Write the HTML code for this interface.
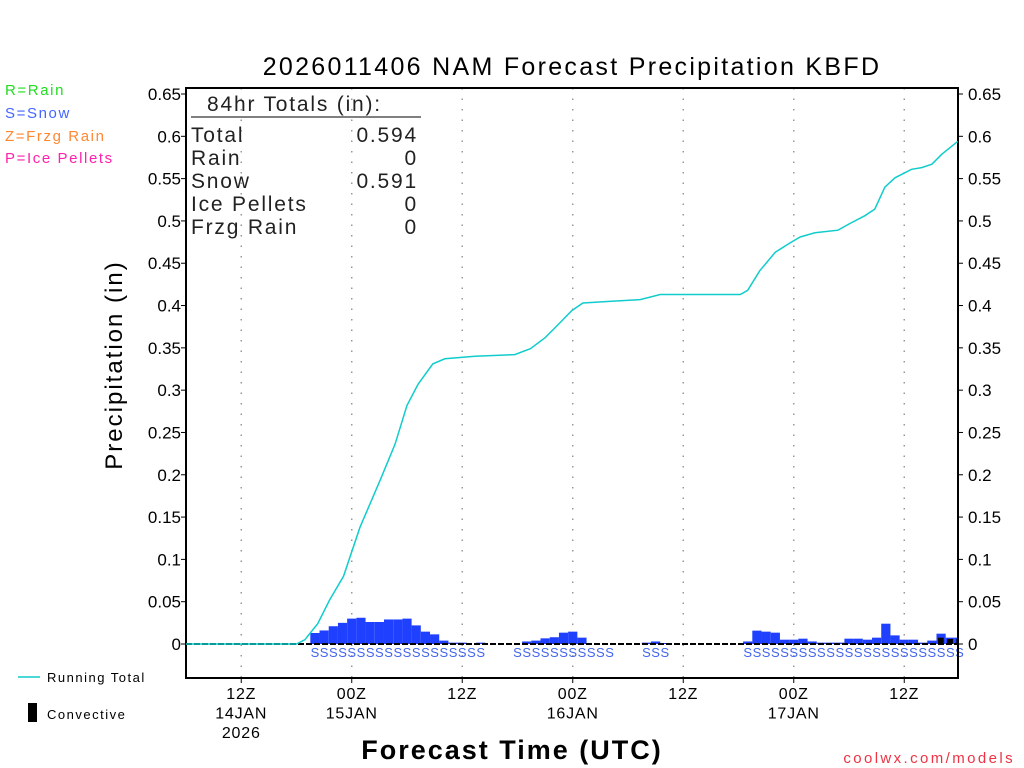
<!DOCTYPE html>
<html><head><meta charset="utf-8"><style>
body{margin:0;background:#fff;}
svg{display:block;font-family:"Liberation Sans",sans-serif;}
</style></head><body>
<svg id="chart" width="1024" height="768" viewBox="0 0 1024 768">
<text x="572" y="75" font-size="25" text-anchor="middle" fill="#000" letter-spacing="2.3">2026011406 NAM Forecast Precipitation KBFD</text>
<g font-size="15" letter-spacing="1.6">
<text x="5" y="95" fill="#22dd22">R=Rain</text>
<text x="5" y="118" fill="#4466ff">S=Snow</text>
<text x="5" y="141" fill="#ff8833">Z=Frzg Rain</text>
<text x="5" y="163" fill="#ff22aa">P=Ice Pellets</text>
</g>
<g id="grid"></g>
<g id="bars"></g>
<g id="slabels"></g>
<g id="axes"></g>
<path id="runline" fill="none" stroke="#11cccc" stroke-width="1.5"/>
<g font-size="21" fill="#222" letter-spacing="1.8" font-weight="300">
<text x="207" y="111">84hr Totals (in):</text>
<line x1="191" y1="117" x2="421" y2="117" stroke="#000" stroke-width="1"/>
<text x="191" y="142">Total</text><text x="418" y="142" text-anchor="end">0.594</text>
<text x="191" y="165">Rain</text><text x="418" y="165" text-anchor="end">0</text>
<text x="191" y="188">Snow</text><text x="418" y="188" text-anchor="end">0.591</text>
<text x="191" y="211">Ice Pellets</text><text x="418" y="211" text-anchor="end">0</text>
<text x="191" y="234">Frzg Rain</text><text x="418" y="234" text-anchor="end">0</text>
</g>
<text transform="translate(122,365) rotate(-90)" font-size="24" text-anchor="middle" letter-spacing="2">Precipitation (in)</text>
<text x="512" y="759" font-size="27" text-anchor="middle" font-weight="bold" letter-spacing="2">Forecast Time (UTC)</text>
<g>
<line x1="18" y1="677" x2="40" y2="677" stroke="#11cccc" stroke-width="1.5"/>
<text x="47" y="682" font-size="13" letter-spacing="1.5">Running Total</text>
<rect x="28" y="703" width="9" height="19" fill="#000"/>
<text x="47" y="719" font-size="13" letter-spacing="1.5">Convective</text>
</g>
<text x="1015" y="763" font-size="15" fill="#ee3344" text-anchor="end" letter-spacing="2.4">coolwx.com/models</text>
</svg>
<script>
const barHours = [14,15,16,17,18,19,20,21,22,23,24,25,26,27,28,29,30,32,37,38,39,40,41,42,43,50,51,52,61,62,63,64,65,66,67,68,69,70,71,72,73,74,75,76,77,78,79,80,81,82,83,84];
const barValues = [0.013,0.016,0.021,0.025,0.030,0.031,0.026,0.026,0.029,0.029,0.030,0.022,0.0146,0.0114,0.004,0.0016,0.0016,0.0016,0.003,0.004,0.0067,0.008,0.0134,0.0146,0.0075,0.0016,0.003,0.0012,0.003,0.0158,0.0146,0.0134,0.0051,0.0051,0.0063,0.003,0.0016,0.0016,0.0016,0.0063,0.0063,0.0051,0.0075,0.024,0.0102,0.0051,0.0051,0.0016,0.004,0.0122,0.0075,0.0075];
const convHours = [82,83,84];
const convValues = [0.0075,0.006,0.006];
const runHours = [0,12,12.9,14.3,15.6,17.1,18.9,21.1,22.7,24,25.2,26.8,28.1,31.4,35.7,37.4,39,40.1,41.9,43.1,46.2,49.3,50.4,51.5,60.2,61,62.3,64,65.6,66.7,68.3,70.8,72.1,73.7,74.8,75.9,77,78.8,79.9,81,82.1,83.8];
const runValues = [0,0,0.005,0.024,0.052,0.080,0.138,0.194,0.236,0.282,0.307,0.331,0.337,0.340,0.342,0.349,0.362,0.374,0.394,0.403,0.405,0.407,0.410,0.413,0.413,0.418,0.441,0.463,0.474,0.481,0.486,0.489,0.497,0.506,0.514,0.540,0.551,0.561,0.563,0.567,0.579,0.594];
const snowHours = [14,15,16,17,18,19,20,21,22,23,24,25,26,27,28,29,30,31,32,36,37,38,39,40,41,42,43,44,45,46,50,51,52,61,62,63,64,65,66,67,68,69,70,71,72,73,74,75,76,77,78,79,80,81,82,83,84];
const yTicks = [0,0.05,0.1,0.15,0.2,0.25,0.3,0.35,0.4,0.45,0.5,0.55,0.6,0.65];
const xTickHours = [6,18,30,42,54,66,78];
const xTickLine1 = ["12Z","00Z","12Z","00Z","12Z","00Z","12Z"];
const xTickLine2 = ["14JAN","15JAN","","16JAN","","17JAN",""];
const xTickLine3 = ["2026","","","","","",""];

const X0=186, X1=958, Y0=644, PPI=846.15, TOP=88, BOT=678;
const xs = h => X0 + h*(110.5/12);
const ys = v => Y0 - v*PPI;
const NS="http://www.w3.org/2000/svg";
function mk(tag, parent, attrs){const e=document.createElementNS(NS,tag);for(const k in attrs)e.setAttribute(k,attrs[k]);parent.appendChild(e);return e;}
const grid=document.getElementById('grid'), bars=document.getElementById('bars'), sl=document.getElementById('slabels'), axes=document.getElementById('axes');
const bw=110.5/12;
xTickHours.forEach((h,i)=>{
  const g=mk('line',grid,{x1:xs(h),x2:xs(h),y1:TOP,y2:BOT,stroke:'#999','stroke-dasharray':'1.5,9','stroke-width':1.5});
  
  
  mk('line',axes,{x1:xs(h),x2:xs(h),y1:BOT,y2:BOT+5,stroke:'#000'});
  [xTickLine1[i],xTickLine2[i],xTickLine3[i]].forEach((s,j)=>{
    if(!s)return;
    const tx=mk('text',axes,{x:xs(h),y:699+j*19.5,'font-size':16,'text-anchor':'middle','letter-spacing':0.8});
    tx.textContent=s;
    
    
  });
});
function clipW(x,w){const r=Math.min(x+w,X1);return Math.max(0,r-x);}
barHours.forEach((h,i)=>{
  const x=xs(h)-bw/2, v=barValues[i];
  const r=mk('rect',bars,{x:x,y:ys(v),width:clipW(x,bw),height:v*PPI,fill:'#2040ff'});
  
  
});
convHours.forEach((h,i)=>{
  const x=xs(h)-bw/2+1.5, v=convValues[i];
  const r=mk('rect',bars,{x:x,y:ys(v),width:clipW(x,bw-3.5),height:v*PPI,fill:'#000'});
  
  
});
mk('line',bars,{x1:X0,x2:X1,y1:Y0,y2:Y0,stroke:'#000','stroke-width':2,'stroke-dasharray':'6,2'});
snowHours.forEach(h=>{
  const t=mk('text',sl,{x:xs(h),y:657,'font-size':13,'text-anchor':'middle',fill:'#4466ee'});
  t.textContent='S';
  
  
});
mk('rect',axes,{x:X0,y:TOP,width:X1-X0,height:BOT-TOP,fill:'none',stroke:'#000','stroke-width':2});
yTicks.forEach(v=>{
  mk('line',axes,{x1:X0-5,x2:X0,y1:ys(v),y2:ys(v),stroke:'#000'});
  mk('line',axes,{x1:X1,x2:X1+5,y1:ys(v),y2:ys(v),stroke:'#000'});
  const l=mk('text',axes,{x:X0-5,y:ys(v)+6,'font-size':17,'text-anchor':'end'});
  l.textContent=String(v);
  
  
  const r=mk('text',axes,{x:X1+10,y:ys(v)+6,'font-size':17});
  r.textContent=String(v);
  
  
});
document.getElementById('runline').setAttribute('d',runHours.map((h,i)=>(i?'L':'M')+xs(h).toFixed(1)+','+ys(runValues[i]).toFixed(1)).join(''));
</script>
</body></html>
